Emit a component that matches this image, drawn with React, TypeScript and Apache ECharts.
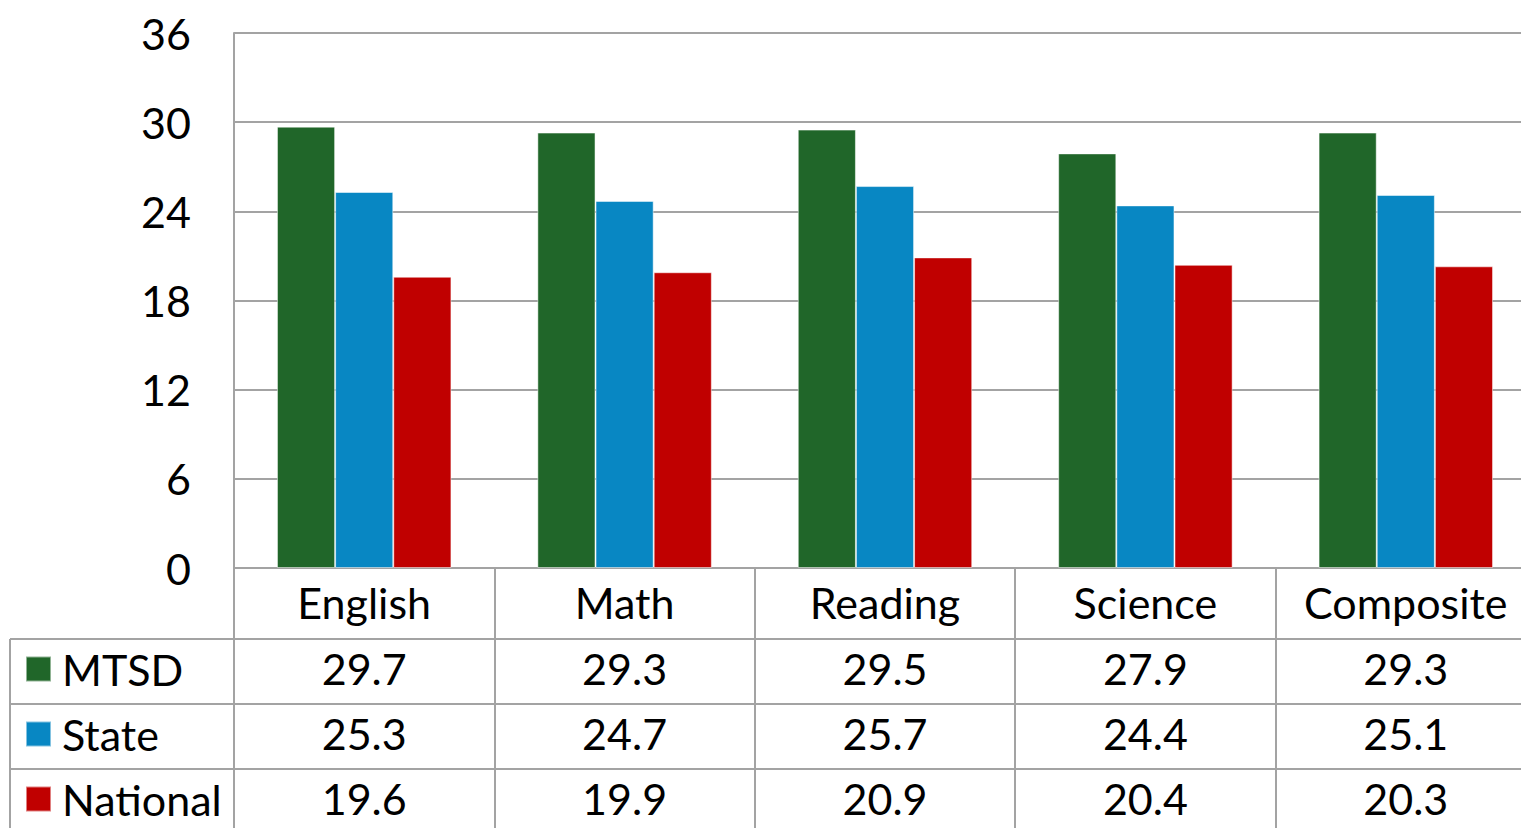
import React, { useEffect, useRef } from "react";
import * as echarts from "echarts";

const categories = ["English", "Math", "Reading", "Science", "Composite"];
const seriesNames = ["MTSD", "State", "National"];
const mtsd = [29.7, 29.3, 29.5, 27.9, 29.3];
const state = [25.3, 24.7, 25.7, 24.4, 25.1];
const national = [19.6, 19.9, 20.9, 20.4, 20.3];
const yTicks = { min: 0, max: 36, interval: 6 };

const colors = ["#206629", "#0887c3", "#c00000"];
const FONT = "Lato";
const GRAY = "#a3a3a3";

const W = 1521;
const H = 828;
const GRID_LEFT = 234;
const GRID_TOP = 33;
const AXIS_Y = 568;
const ROW_LINES = [639, 704, 769];

export default function App() {
  const ref = useRef<HTMLDivElement>(null);

  useEffect(() => {
    if (!ref.current) return;
    const chart = echarts.init(ref.current, null, { renderer: "svg" });
    const values = [mtsd, state, national];

    const tableAxes = values.map((vals, k) => ({
      type: "category",
      gridIndex: 0,
      position: "bottom",
      offset: ROW_LINES[k] - AXIS_Y,
      data: categories,
      axisLine: { show: false },
      axisTick: { show: false },
      splitLine: { show: false },
      axisLabel: {
        interval: 0,
        margin: 8,
        fontSize: 43,
        fontFamily: FONT,
        color: "#000",
        formatter: (_v: string, i: number) => vals[i].toFixed(1),
      },
    }));

    const lineStyle = { stroke: GRAY, lineWidth: 2 };
    const graphics: any[] = ROW_LINES.map((y) => ({
      type: "line",
      shape: { x1: 10, y1: y, x2: W, y2: y },
      style: lineStyle,
      silent: true,
    }));
    graphics.push({
      type: "line",
      shape: { x1: 10, y1: ROW_LINES[0], x2: 10, y2: H },
      style: lineStyle,
      silent: true,
    });

    chart.setOption({
      animation: false,
      backgroundColor: "#fff",
      textStyle: { fontFamily: FONT },
      grid: {
        left: GRID_LEFT,
        top: GRID_TOP,
        right: -15,
        bottom: H - AXIS_Y,
        outerBoundsMode: "none",
        containLabel: false,
      },
      legend: {
        orient: "vertical",
        left: 25,
        top: 644,
        padding: 0,
        itemGap: 15,
        itemWidth: 25,
        itemHeight: 25,
        icon: "rect",
        selectedMode: false,
        data: seriesNames,
        textStyle: {
          fontSize: 43,
          fontFamily: FONT,
          color: "#000",
          lineHeight: 50,
          padding: [0, 0, 0, 6],
        },
      },
      xAxis: [
        {
          type: "category",
          data: categories,
          position: "bottom",
          axisLine: { show: true, lineStyle: { color: GRAY, width: 2 } },
          axisTick: {
            show: true,
            length: H - AXIS_Y,
            lineStyle: { color: GRAY, width: 2 },
          },
          axisLabel: {
            interval: 0,
            margin: 13,
            fontSize: 43,
            fontFamily: FONT,
            color: "#000",
          },
        },
        ...tableAxes,
      ],
      yAxis: {
        type: "value",
        min: yTicks.min,
        max: yTicks.max,
        interval: yTicks.interval,
        axisLine: { show: true, lineStyle: { color: GRAY, width: 2 } },
        axisTick: { show: false },
        splitLine: { show: true, lineStyle: { color: GRAY, width: 2 } },
        axisLabel: {
          margin: 43,
          fontSize: 43,
          fontFamily: FONT,
          color: "#000",
          padding: [0, 0, 7, 0],
        },
      },
      series: values.map((vals, k) => ({
        name: seriesNames[k],
        type: "bar",
        xAxisIndex: 0,
        data: vals,
        barGap: "0%",
        barCategoryGap: "33%",
        itemStyle: {
          color: colors[k],
          borderColor: "rgba(255,255,255,0.5)",
          borderWidth: 1,
        },
      })),
      graphic: graphics,
    });

    return () => chart.dispose();
  }, []);

  return (
    <div
      ref={ref}
      style={{ position: "absolute", left: 0, top: 0, width: W, height: H }}
    />
  );
}
